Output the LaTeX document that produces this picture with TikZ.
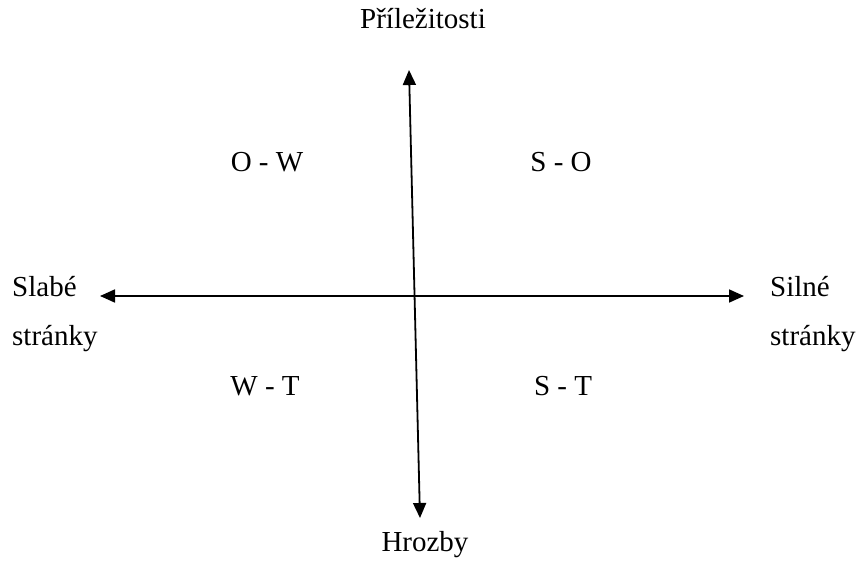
\documentclass[tikz,border=0pt]{standalone}
\usepackage{fontspec}
\setmainfont{Liberation Serif}
\usetikzlibrary{arrows.meta}

\begin{document}
\begin{tikzpicture}[
    x=1pt, y=-1pt,
    font=\fontsize{29}{49}\selectfont,
    axis/.style={line width=1.8pt, {Triangle[length=15pt,width=13pt]}-{Triangle[length=15pt,width=13pt]}},
    lbl/.style={inner sep=0pt, anchor=base},
    side/.style={inner sep=0pt, anchor=base west, align=left}
]
  \useasboundingbox (0,0) rectangle (856,561);

  % ===== osy =====
  \coordinate (left)   at (100,296);
  \coordinate (right)  at (744,296);
  \coordinate (top)    at (409,70);
  \coordinate (bottom) at (420,518);
  \draw[axis] (left) -- (right);
  \draw[axis] (top) -- (bottom);

  % ===== popisky os =====
  \node[lbl] (prilez) at (423,29) {Příležitosti};
  \node[lbl] (hrozby) at (425,551) {Hrozby};
  \node[side] (slabe) at (12,345) {Slabé\\stránky};
  \node[side] (silne) at (770,345) {Silné\\stránky};

  % ===== kvadranty =====
  \node[lbl] (ow) at (267,172) {O - W};
  \node[lbl] (so) at (561,172) {S - O};
  \node[lbl] (wt) at (265,395) {W - T};
  \node[lbl] (st) at (563,395) {S - T};
\end{tikzpicture}
\end{document}
